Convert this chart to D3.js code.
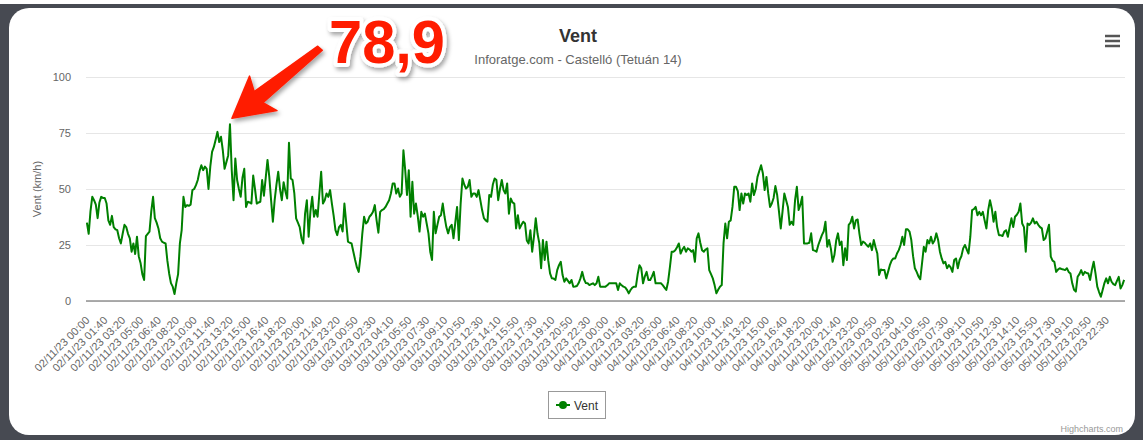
<!DOCTYPE html>
<html>
<head>
<meta charset="utf-8">
<script src="https://cdn.jsdelivr.net/npm/d3@7"></script>
<style>
  html, body { margin: 0; padding: 0; background: #fff; }
  svg { display: block; font-family: "Liberation Sans", Arial, Helvetica, sans-serif; }
</style>
</head>
<body>
<svg id="chart"></svg>
<script>
// wind readings (km/h), one per 10 minutes, split by day
const vent02 = [
  35,30,40,46.5,45,43,37,44,46.5,46,
  46,43.5,36,34,38,33,32,31.6,28,25.7,
  30,34,33,30,28,22,25.7,21,28.7,20,
  17,12,9.4,29,30,31,40,46.5,37,35,
  32.4,28,26.5,26,25.7,18,12.3,8,6.4,3.1,
  8,12,25.7,31.6,46.5,42,42.8,42.5,43,49.5,
  50,51.7,54,58,60.6,58.4,60,59,50,60,
  66.6,68.8,72,75.5,71,73.3,67.3,59,62,65,
  78.9,58.4,45,63.6,54,50,46.5,55,59,42,
  44.3,44,43.5,56,50,43.5,44,44.3,54,47,
  55,63,55.4,45,35.4,45,52,57.7,50,45,
  53,49,45.8,70.6,54.7,54,48,36.9,35,33,
  28,25.7,39,45,28.7,40,46.5,37.6,40.6,37.6,
  48,57.7,43.5,45,48,46.5,49.5,43.5,38,31.6,
  29.4,33,34,31,43.5
];
const vent03 = [
  35,26.5,26,25.7,22,
  18.3,15,13,20,30,37.6,34.6,35.4,37.6,38.5,
  39.8,42.8,36,30.5,39.8,40.6,41,42,43.5,45,
  48,52.5,52.5,48,50.2,46.5,48,67.3,58.4,47.3,
  58.4,37.6,53.2,39,43.5,38,31,39.8,37.6,39,
  34.6,30.2,22,18.3,39.8,30.2,34,37.6,38.3,43.5,
  37.6,33,30.2,33,34,28,35,42,27.2,43.5,
  54.7,52,50.2,51,54,46.5,48,48,46.5,49.5,
  45,40.6,37,36,35.4,47.3,46.5,52,54.7,54,
  45,50,54,49.5,48,52.5,39,45.8,44,43.5,
  32.4,38.3,32.4,34,35.4,34.6,27,25.7,31.6,22,
  28.7,36.9,30,25.7,14.6,27.2,18.3,26.5,18,12.3,
  10.1,10,9.4,13.8,16,17.5,11.6,8.6,10.1,9,
  7.9,9.4,6.4,6.5,6.7,8,10.1,13,9.7,8,
  7.9,7.1,7.5,7.9,7.1,7.9,10.8,6.4,6.4,6.4
];
const vent04 = [
  6.4,7,7.9,7.9,7.9,7.9,7.9,4.9,7.9,7,
  6.4,6.1,5,3.4,4.9,6,6.4,6.4,12,16,
  14.6,7.9,11,13,9.4,9.4,11,13,7.9,7.9,
  7.9,7.9,7.1,6,4.9,8.6,15,22,22,22.7,
  24,25.7,21.2,23,24.2,22,23.5,23,22,22.7,
  17.5,28,30.2,26,22.7,22,23,23.5,13.8,12,
  10.1,7.1,3.4,5,6.4,7.1,25.7,34.6,28,35.4,
  36,42,51,51,49,40.6,48,43.5,48,47.3,
  48,44.3,52.5,47.3,50,55.4,58,60.6,57,49.5,
  55.4,48,42,43.5,46,51.3,47.3,40,32.4,40,
  48,45,42,34,35.4,34,45,51,40.6,43,
  46.5,25.7,25.7,25.7,26,30.2,22.7,22.5,22,25,
  27.2,29.4,31,35.4,24.2,27.2,23.5,17.5,20.5,27,
  30.2,25,26.5,16,23.5,18.3,34,35,37.6,32.4,
  36,36.4,30,25,26.5
];
const vent05 = [
  26,25,24.2,25.7,22.7,
  27.2,24,21.2,11.6,14.1,13.8,13.8,10.1,13,16,
  18,19,19,21.2,22.7,25,28.7,25,32,32,
  31,27.2,20,14.6,13,11,9.7,16.8,24.2,22,
  27.2,25.7,28.7,25.7,27,30.2,27.2,22,19,16.8,
  17.5,14.6,16,15,13,18.3,19,14.6,18.3,20,
  23.5,25,23,21.2,28.7,40.6,41,42,38.3,39.8,
  38.3,39.8,36,32.4,40.6,45,41.3,35.4,39.8,33,
  29.4,29.4,29,31,31.6,28.7,33,36.9,33,37.6,
  38.5,39.8,43.5,34.6,33,22,34.6,34,35,36.9,
  34.6,35.4,34,33,32.4,27.2,28,31,34,19.8,
  18,17.5,13,14,14.6,14.3,14.1,13.8,14.6,13,
  12.3,7.9,5,4.2,10.8,12,13.8,11.6,13,12.5,
  12.3,9.4,14,17.5,12.3,6.4,4,1.9,4.9,8,
  10.1,7.9,10.8,8.6,7.5,7.1,9,10.8,5.6,7.1,
  9.4
];

// one label every 10 readings
const tickLabels = [
  "02/11/23 00:00","02/11/23 01:40","02/11/23 03:20","02/11/23 05:00","02/11/23 06:40",
  "02/11/23 08:20","02/11/23 10:00","02/11/23 11:40","02/11/23 13:20","02/11/23 15:00",
  "02/11/23 16:40","02/11/23 18:20","02/11/23 20:00","02/11/23 21:40","02/11/23 23:20",
  "03/11/23 00:50","03/11/23 02:30","03/11/23 04:10","03/11/23 05:50","03/11/23 07:30",
  "03/11/23 09:10","03/11/23 10:50","03/11/23 12:30","03/11/23 14:10","03/11/23 15:50",
  "03/11/23 17:30","03/11/23 19:10","03/11/23 20:50","03/11/23 22:30",
  "04/11/23 00:00","04/11/23 01:40","04/11/23 03:20","04/11/23 05:00","04/11/23 06:40",
  "04/11/23 08:20","04/11/23 10:00","04/11/23 11:40","04/11/23 13:20","04/11/23 15:00",
  "04/11/23 16:40","04/11/23 18:20","04/11/23 20:00","04/11/23 21:40","04/11/23 23:20",
  "05/11/23 00:50","05/11/23 02:30","05/11/23 04:10","05/11/23 05:50","05/11/23 07:30",
  "05/11/23 09:10","05/11/23 10:50","05/11/23 12:30","05/11/23 14:10","05/11/23 15:50",
  "05/11/23 17:30","05/11/23 19:10","05/11/23 20:50","05/11/23 22:30"
];
const tickStep = 10;
const yTicks = [0, 25, 50, 75, 100];
const seriesName = "Vent";
const peakText = "78,9";

const values = [...vent02, ...vent03, ...vent04, ...vent05];

const width = 1143;
const height = 440;
const margin = {top: 77, right: 18, bottom: 139, left: 86};
const plotW = width - margin.left - margin.right;
const plotH = height - margin.top - margin.bottom;

const svg = d3.select('#chart').attr('width', width).attr('height', height);

const defs = svg.append('defs');
const shadow = defs.append('filter').attr('id', 'shadow')
  .attr('x', '-20%').attr('y', '-20%').attr('width', '150%').attr('height', '150%');
shadow.append('feDropShadow').attr('dx', 2).attr('dy', 3).attr('stdDeviation', 2)
  .attr('flood-color', '#000').attr('flood-opacity', 0.35);

// screenshot frame
svg.append('rect').attr('width', width).attr('height', height).attr('fill', '#fff');
svg.append('rect').attr('x', 0).attr('y', 4).attr('width', width).attr('height', height - 4)
  .attr('fill', '#474a52');
svg.append('rect').attr('x', 9).attr('y', 8).attr('width', 1126).attr('height', 427)
  .attr('rx', 20).attr('fill', '#fff');

const x = d3.scalePoint()
  .domain(d3.range(values.length))
  .range([margin.left, margin.left + plotW])
  .padding(0.5);

const y = d3.scaleLinear().domain([0, 100]).range([margin.top + plotH, margin.top]);

// y axis + grid
const yAxis = svg.append('g')
  .attr('transform', `translate(${margin.left},0)`)
  .call(d3.axisLeft(y).tickValues(yTicks).tickSize(-plotW).tickPadding(15));
yAxis.select('.domain').remove();
yAxis.selectAll('line').attr('stroke', '#e6e6e6');
yAxis.selectAll('text').attr('fill', '#666').style('font-size', '11px')
  .style('font-family', '"Liberation Sans", Arial, sans-serif');

// x axis
const tickIdx = tickLabels.map((_, k) => k * tickStep);
const xAxis = svg.append('g')
  .attr('transform', `translate(0,${margin.top + plotH})`)
  .call(d3.axisBottom(x).tickValues(tickIdx).tickSize(0).tickFormat(i => tickLabels[i / tickStep]));
xAxis.select('.domain').remove();
xAxis.selectAll('text')
  .attr('x', 0).attr('y', 0).attr('dy', 0)
  .attr('transform', 'translate(3,20) rotate(-45)')
  .style('text-anchor', 'end')
  .style('font-size', '11px')
  .style('font-family', '"Liberation Sans", Arial, sans-serif')
  .attr('fill', '#666');

svg.append('line')
  .attr('x1', margin.left).attr('x2', margin.left + plotW)
  .attr('y1', y(0)).attr('y2', y(0))
  .attr('stroke', '#909090').attr('stroke-width', 1.5);

// axis title
svg.append('text')
  .attr('transform', `translate(41,${margin.top + plotH / 2}) rotate(-90)`)
  .attr('text-anchor', 'middle')
  .attr('fill', '#666').style('font-size', '11px')
  .text('Vent (km/h)');

// series
const line = d3.line()
  .x((d, i) => x(i))
  .y(d => y(d));

svg.append('path')
  .datum(values)
  .attr('fill', 'none')
  .attr('stroke', '#008000')
  .attr('stroke-width', 2)
  .attr('stroke-linejoin', 'round')
  .attr('d', line);

// titles
svg.append('text').attr('x', 578).attr('y', 42).attr('text-anchor', 'middle')
  .attr('fill', '#333').style('font-size', '18px').style('font-weight', 'bold')
  .text('Vent');
svg.append('text').attr('x', 578).attr('y', 64).attr('text-anchor', 'middle')
  .attr('fill', '#666').style('font-size', '13px')
  .text('Inforatge.com - Castelló (Tetuán 14)');

// menu button
svg.append('g').selectAll('line').data([36, 41, 46]).join('line')
  .attr('x1', 1105).attr('x2', 1120).attr('y1', d => d).attr('y2', d => d)
  .attr('stroke', '#555').attr('stroke-width', 2.5);

// legend
const lg = svg.append('g').attr('transform', 'translate(548.5,391.5)');
lg.append('rect').attr('width', 57).attr('height', 27).attr('fill', '#fff')
  .attr('stroke', '#999').attr('stroke-width', 1);
lg.append('line').attr('x1', 7.5).attr('x2', 21.5).attr('y1', 13.5).attr('y2', 13.5)
  .attr('stroke', '#008000').attr('stroke-width', 2);
lg.append('circle').attr('cx', 14.5).attr('cy', 13.5).attr('r', 4).attr('fill', '#008000');
lg.append('text').attr('x', 25.5).attr('y', 18.5).attr('fill', '#333')
  .style('font-size', '12px').text(seriesName);

// credits
svg.append('text').attr('x', 1123).attr('y', 432).attr('text-anchor', 'end')
  .attr('fill', '#999').style('font-size', '9px').text('Highcharts.com');

// peak annotation: arrow pointing at the max reading
const peakI = d3.maxIndex(values);
const tipX = x(peakI) + 2;
const tipY = y(values[peakI]) - 6;
const ang = Math.atan2(-70, 88);
const ux = Math.cos(ang), uy = Math.sin(ang);
const nx = -uy, ny = ux;
const pt = (a, p) => [tipX + ux * a + nx * p, tipY + uy * a + ny * p];
const arrowPts = [
  pt(0, 0), pt(40, -22), pt(34, -7), pt(112, -3),
  pt(113, 3), pt(34, 7), pt(40, 22)
];
svg.append('path')
  .attr('d', d3.line()(arrowPts) + 'Z')
  .attr('fill', '#ff1c00')
  .attr('stroke', '#ff1c00').attr('stroke-width', 1.5).attr('stroke-linejoin', 'round')
  .attr('filter', 'url(#shadow)');

svg.append('text')
  .attr('x', 329).attr('y', 63)
  .attr('textLength', 116).attr('lengthAdjust', 'spacingAndGlyphs')
  .style('font-size', '62px').style('font-weight', 'bold')
  .attr('fill', '#ff1c00')
  .attr('stroke', '#fff').attr('stroke-width', 8).attr('stroke-linejoin', 'round')
  .attr('paint-order', 'stroke')
  .attr('filter', 'url(#shadow)')
  .text(peakText);
</script>
</body>
</html>
